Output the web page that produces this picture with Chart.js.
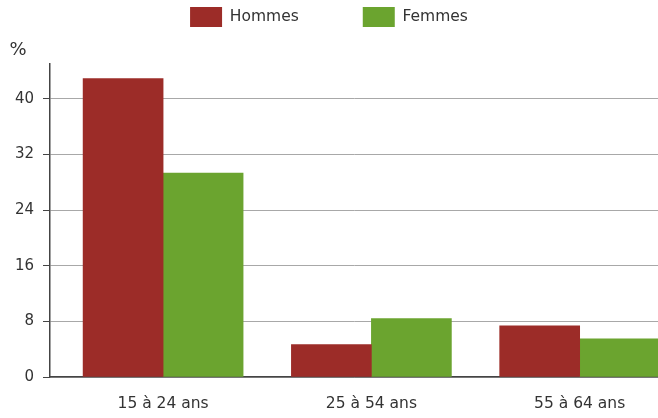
<!DOCTYPE html>
<html>
<head>
<meta charset="utf-8">
<script src="https://cdn.jsdelivr.net/npm/chart.js@4.4.1/dist/chart.umd.min.js"></script>
<style>
  html, body { margin: 0; padding: 0; background: #fff; }
  #wrap { width: 658px; height: 418px; }
</style>
</head>
<body>
<div id="wrap"><canvas id="chart"></canvas></div>
<script>
// data
const categories = ['15 à 24 ans', '25 à 54 ans', '55 à 64 ans'];
const hommes = [42.9, 4.65, 7.35];
const femmes = [29.3, 8.4, 5.5];
const yTicks = [0, 8, 16, 24, 32, 40];
const seriesNames = ['Hommes', 'Femmes'];

const RED = '#9c2c28';
const GREEN = '#6ba42f';
const TEXT = '#333333';
const FONT = "'DejaVu Sans', Verdana, sans-serif";

// legend needs wide spacing between items but stays near the top
const legendHeight = {
    id: 'legendHeight',
    beforeLayout (chart) {
        const lg = chart.legend;
        if (lg && !lg._wrapped) {
            const fit = lg.fit;
            lg.fit = function () { fit.call(this); this.height = 121; };
            lg._wrapped = true;
        }
    }
};

// "%" unit label above the y axis
const unitLabel = {
    id: 'unitLabel',
    afterDraw (chart) {
        const ctx = chart.ctx;
        ctx.save();
        ctx.fillStyle = TEXT;
        ctx.font = '18px ' + FONT;
        ctx.textAlign = 'center';
        ctx.textBaseline = 'middle';
        ctx.fillText('%', 18, 50);
        ctx.restore();
    }
};

new Chart(document.getElementById('chart'), {
    type: 'bar',
    data: {
        datasets: [{
            label: seriesNames[0],
            backgroundColor: RED,
            data: hommes.map((v, i) => ({ x: i, y: v }))
        }, {
            label: seriesNames[1],
            backgroundColor: GREEN,
            data: femmes.map((v, i) => ({ x: i, y: v }))
        }]
    },
    options: {
        responsive: true,
        maintainAspectRatio: false,
        animation: false,
        barThickness: 80,
        layout: { padding: { top: -57, left: 0, right: 0, bottom: 0 } },
        plugins: {
            legend: {
                position: 'top',
                labels: {
                    boxWidth: 32,
                    boxHeight: 20,
                    padding: 64,
                    color: TEXT,
                    font: { family: FONT, size: 15.5 }
                }
            },
            tooltip: { enabled: false }
        },
        scales: {
            x: {
                type: 'linear',
                offset: false,
                min: -0.543,
                max: 2.376,
                afterBuildTicks (scale) { scale.ticks = categories.map((c, i) => ({ value: i })); },
                afterFit (scale) { scale.height = 41; },
                grid: { display: false, drawTicks: false, offset: false },
                border: { display: true, color: '#444', width: 1.5 },
                ticks: {
                    padding: 18,
                    color: TEXT,
                    font: { family: FONT, size: 15.5 },
                    callback: (v) => categories[v]
                }
            },
            y: {
                min: 0,
                max: 45,
                afterBuildTicks (scale) { scale.ticks = yTicks.map(v => ({ value: v })); },
                afterFit (scale) { scale.width = 50; },
                grid: {
                    color: '#a8a8a8',
                    lineWidth: 1,
                    tickLength: 7,
                    tickColor: '#444'
                },
                border: { display: true, color: '#444', width: 1.5 },
                ticks: {
                    padding: 9,
                    color: TEXT,
                    font: { family: FONT, size: 15 }
                }
            }
        }
    },
    plugins: [legendHeight, unitLabel]
});
</script>
</body>
</html>
